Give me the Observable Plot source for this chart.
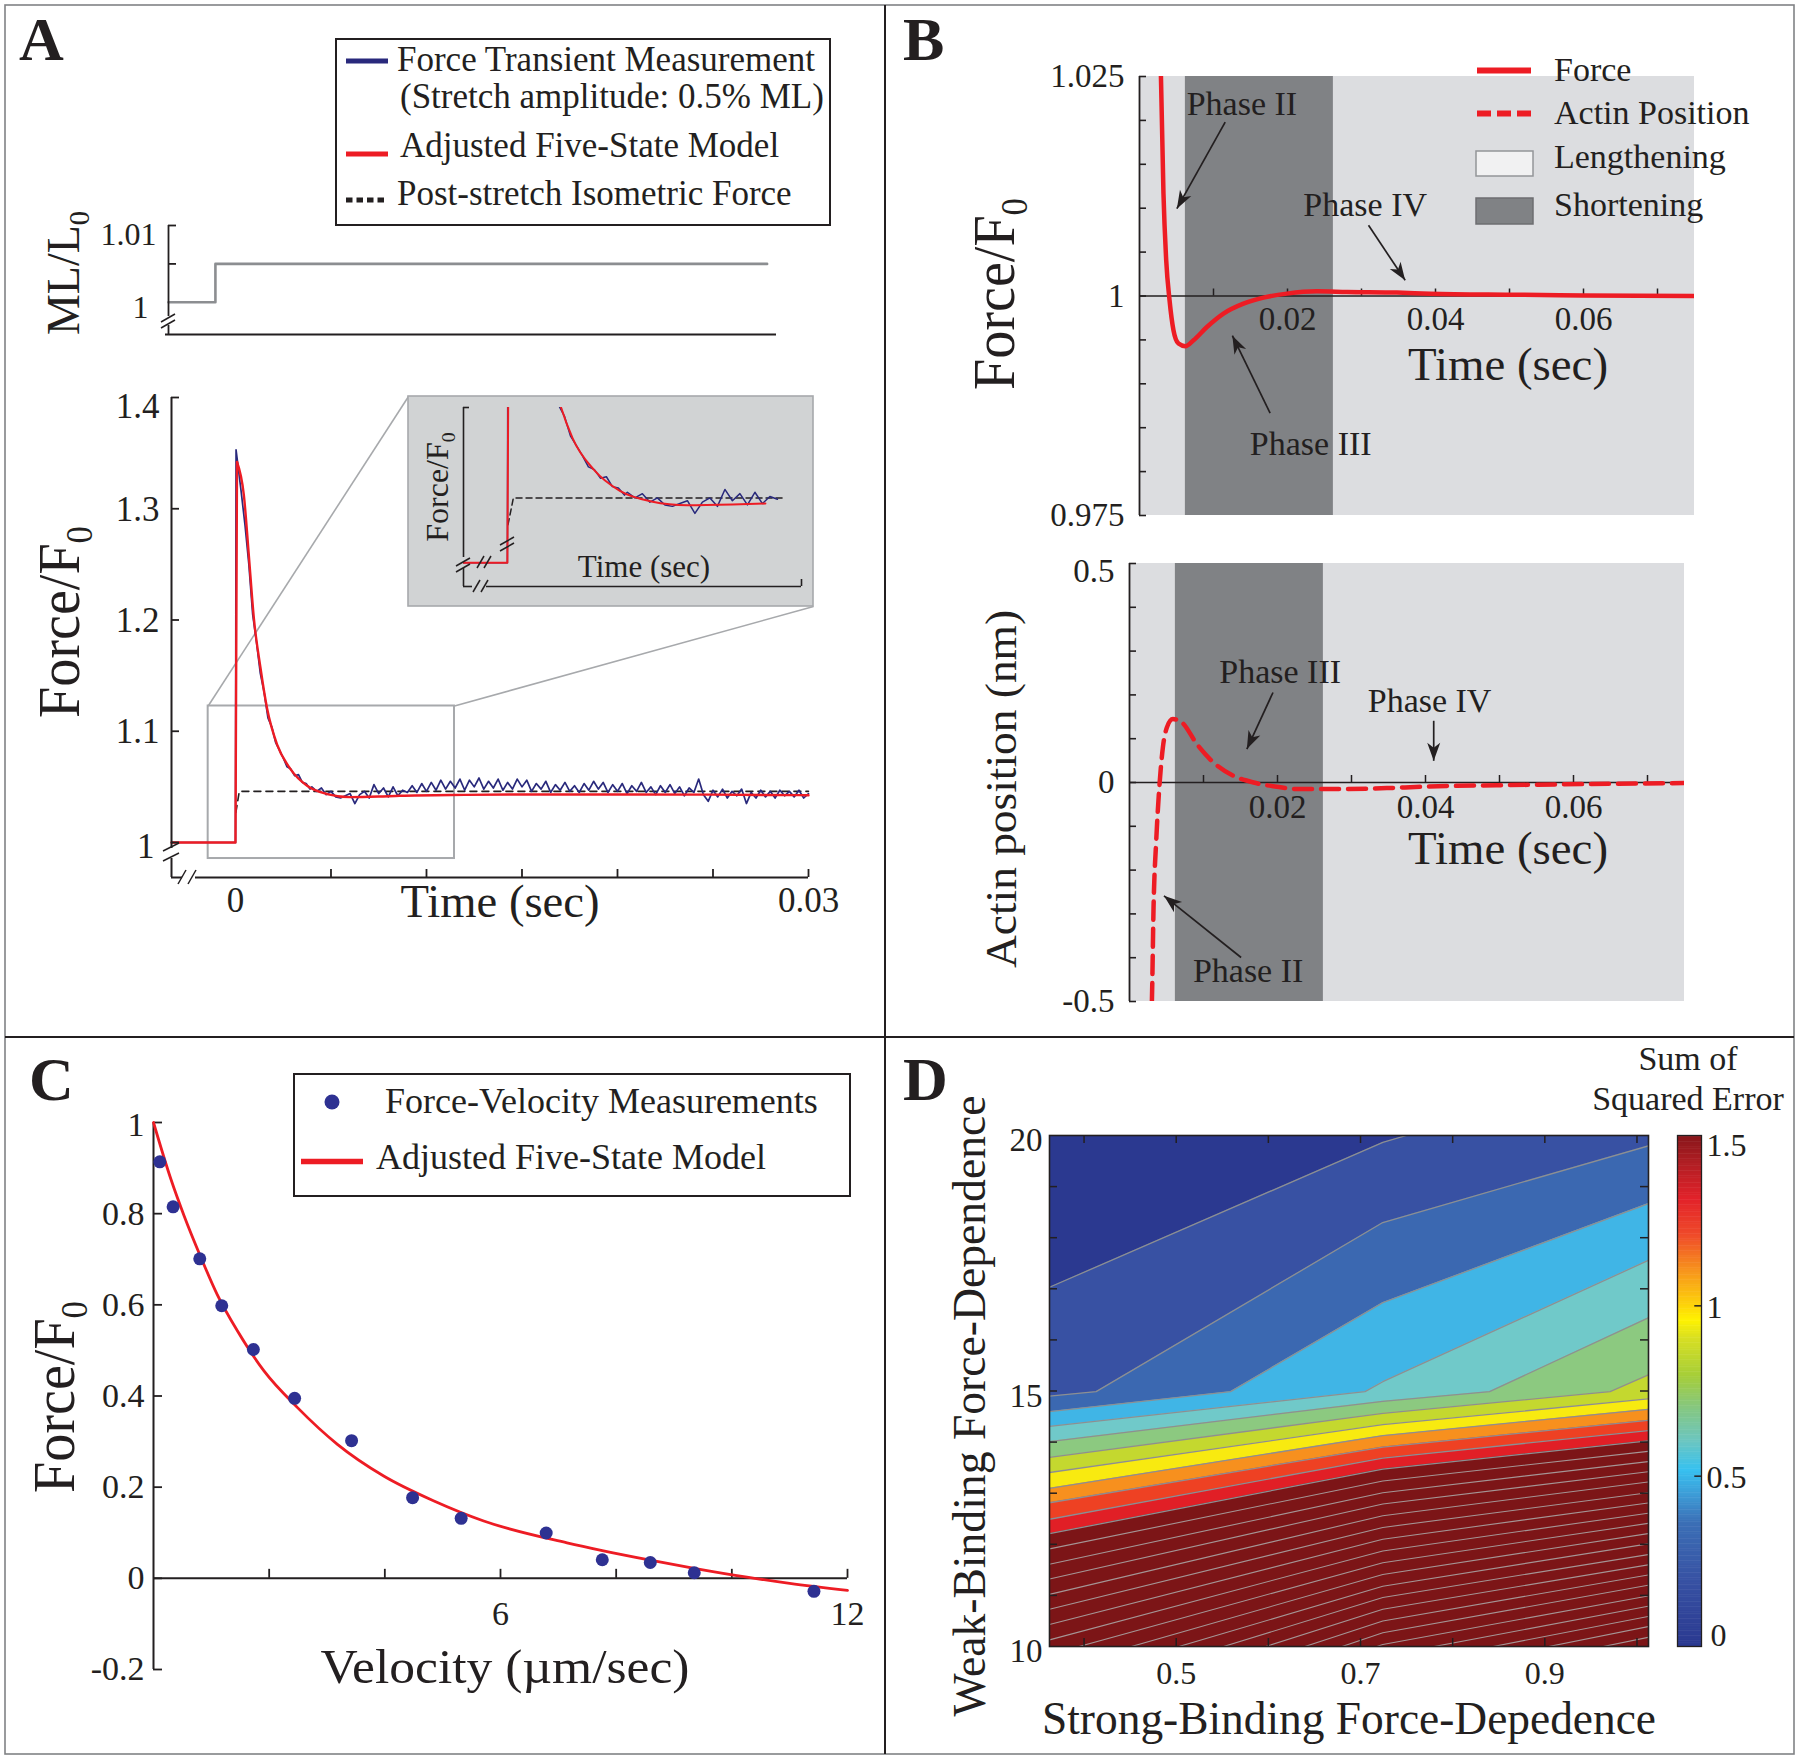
<!DOCTYPE html>
<html><head><meta charset="utf-8">
<script src="https://cdn.jsdelivr.net/npm/d3@7"></script>
<script src="https://cdn.jsdelivr.net/npm/@observablehq/plot@0.6"></script>
<style>
body{margin:0;background:#fff;}
#fig{position:relative;width:1800px;height:1759px;overflow:hidden;background:#fff;}
</style></head><body><div id="fig"></div>
<script>
// ================= DATA =================
// Panel A (top): muscle length step (ML/L0)
const mlTime = [-0.0025, 0, 0.0294];
const mlLength = [1, 1.005, 1.005];
const mlTickValues = [1.005, 1.01];
const mlLabelValues = [1, 1.01];
const mlLabels = ["1", "1.01"];

// Panel A: force transient, model (red): stretch step then decay
const modelStepTime = [-0.00335, 0, 0.00008];
const modelStepForce = [1, 1, 1.342];
const modelTime = [0.00008, 0.00044, 0.0007, 0.00096, 0.0013, 0.00166, 0.00218, 0.00288, 0.00375, 0.0048, 0.006, 0.0075, 0.0086, 0.012, 0.016, 0.02, 0.025, 0.03];
const modelForce = [1.342, 1.312, 1.258, 1.202, 1.158, 1.120, 1.088, 1.066, 1.051, 1.0435, 1.0408, 1.0413, 1.042, 1.0428, 1.0432, 1.0432, 1.043, 1.0425];
// measurement (blue): early part
const measEarlyTime = [-0.00335, 0, 0.00003, 0.0003, 0.0005, 0.0007, 0.0009, 0.0011, 0.0013, 0.0015, 0.0017, 0.0019, 0.0021, 0.0023, 0.0025, 0.0027, 0.0029, 0.0031, 0.0033, 0.0035, 0.0037, 0.0039];
const measEarlyForce = [1, 1, 1.353, 1.315, 1.285, 1.25, 1.205, 1.18, 1.152, 1.135, 1.112, 1.104, 1.09, 1.083, 1.076, 1.068, 1.066, 1.060, 1.061, 1.054, 1.053, 1.048];
// measurement (blue): sampled every 0.25 ms from 4 ms to 30 ms
const measTailStart = 0.004, measTailStep = 0.00025;
const measTailForce = [
1.050,1.046,1.049,1.043,1.046,1.041,1.040,1.042,1.044,1.035,
1.043,1.046,1.040,1.052,1.044,1.049,1.041,1.050,1.042,1.047,
1.045,1.051,1.045,1.053,1.046,1.054,1.047,1.056,1.048,1.055,
1.049,1.057,1.047,1.056,1.050,1.058,1.048,1.055,1.049,1.057,
1.047,1.054,1.048,1.057,1.050,1.056,1.046,1.053,1.048,1.055,
1.045,1.052,1.047,1.054,1.046,1.051,1.045,1.053,1.047,1.055,
1.048,1.054,1.045,1.052,1.046,1.053,1.044,1.051,1.046,1.054,
1.045,1.050,1.043,1.051,1.045,1.052,1.044,1.050,1.042,1.049,
1.045,1.057,1.043,1.037,1.047,1.041,1.048,1.040,1.046,1.042,
1.048,1.035,1.045,1.040,1.047,1.041,1.046,1.040,1.047,1.042,
1.046,1.041,1.047,1.040,1.044];
// post-stretch isometric force (dashed)
const isoTime = [0.00002, 0.0002, 0.03];
const isoForce = [1.027, 1.046, 1.046];
// zoomed region shown in inset
const zoomTime = [-0.00143, 0.011466];
const zoomForce = [0.9856, 1.1227];
const forceTickValues = [1, 1.1, 1.2, 1.3, 1.4];
const forceTickLabels = ["1", "1.1", "1.2", "1.3", "1.4"];
const timeTicksA = [0.005, 0.01, 0.015, 0.02, 0.025, 0.03];
const timeLabelValuesA = [0, 0.03];
const timeLabelsA = ["0", "0.03"];

// Panel B: model force and actin position
const forceBTime = [0.0025, 0.00289, 0.00324, 0.00361, 0.00406, 0.00459, 0.00527, 0.00618, 0.0073, 0.00911, 0.01135, 0.01405, 0.01676, 0.01992, 0.02397, 0.02803, 0.03478, 0.03928, 0.05, 0.06, 0.075];
const forceBValue = [1.045, 1.0253, 1.01165, 1.00406, 0.99951, 0.9961, 0.99458, 0.99428, 0.99496, 0.99647, 0.998, 0.99913, 0.99982, 1.00027, 1.00053, 1.00046, 1.00039, 1.00027, 1.00015, 1.00007, 1.0];
const actinTime = [0.0029, 0.00303, 0.00325, 0.00361, 0.00406, 0.00451, 0.00505, 0.00586, 0.00708, 0.00911, 0.01135, 0.01405, 0.01676, 0.01992, 0.02307, 0.02668, 0.03478, 0.03928, 0.0539, 0.075];
const actinValue = [-0.56, -0.498, -0.285, -0.133, -0.004, 0.080, 0.1256, 0.1447, 0.137, 0.0877, 0.0457, 0.0153, 0.0, -0.0098, -0.0151, -0.0151, -0.0128, -0.0098, -0.0053, -0.0014];
const shorteningPhase = [0.0062, 0.0262];
const timeTicksB = [0.01, 0.02, 0.03, 0.04, 0.05, 0.06, 0.07];
const timeLabelValuesB = [0.02, 0.04, 0.06];
const timeLabelsB = ["0.02", "0.04", "0.06"];
const forceBTicks = [0.975, 0.98, 0.985, 0.99, 0.995, 1, 1.005, 1.01, 1.015, 1.02, 1.025];
const forceBLabelValues = [0.975, 1, 1.025];
const forceBLabels = ["0.975", "1", "1.025"];
const actinTicks = [-0.5, -0.4, -0.3, -0.2, -0.1, 0, 0.1, 0.2, 0.3, 0.4, 0.5];
const actinLabelValues = [-0.5, 0, 0.5];
const actinLabels = ["-0.5", "0", "0.5"];
const phaseTopText = ["Phase II", "Phase IV", "Phase III"];
const phaseTopX = [0.01384, 0.0305, 0.02314];
const phaseTopY = [1.0219, 1.01032, 0.98315];
const arrowTopX1 = [0.01158, 0.03095, 0.01765], arrowTopY1 = [1.0198, 1.00805, 0.98667];
const arrowTopX2 = [0.00505, 0.0359, 0.01255], arrowTopY2 = [1.00995, 1.00179, 0.99548];
const phaseBotText = ["Phase III", "Phase IV", "Phase II"];
const phaseBotX = [0.02036, 0.04055, 0.01603];
const phaseBotY = [0.2518, 0.1865, -0.4299];
const arrowBotX1 = [0.01939, 0.04111, 0.01508], arrowBotY1 = [0.2055, 0.1409, -0.3995];
const arrowBotX2 = [0.01586, 0.04111, 0.00466], arrowBotY2 = [0.0763, 0.0495, -0.2587];

// Panel C: force-velocity
const fvVelocity = [0.109, 0.339, 0.80, 1.18, 1.727, 2.44, 3.425, 4.48, 5.32, 6.79, 7.76, 8.59, 9.35, 11.42];
const fvForce = [0.9137, 0.815, 0.701, 0.598, 0.502, 0.395, 0.302, 0.177, 0.1317, 0.0994, 0.0408, 0.0347, 0.0123, -0.0285];
const fvModelVelocity = [0, 0.3, 0.53, 0.82, 1.1, 1.45, 1.91, 2.49, 3.18, 3.98, 4.85, 5.71, 7.15, 7.76, 8.59, 9.35, 10.29, 11, 12];
const fvModelForce = [1.0, 0.876, 0.795, 0.704, 0.623, 0.543, 0.455, 0.3745, 0.294, 0.2245, 0.1697, 0.1258, 0.078, 0.061, 0.040, 0.022, 0.002, -0.011, -0.0265];
const fvYTicks = [-0.2, 0, 0.2, 0.4, 0.6, 0.8, 1];
const fvYLabels = ["-0.2", "0", "0.2", "0.4", "0.6", "0.8", "1"];
const fvXTicks = [2, 4, 6, 8, 10, 12];
const fvXLabelValues = [6, 12];
const fvXLabels = ["6", "12"];

// Panel D: contour boundaries (strong-binding x, weak-binding y), top to bottom
const contourX = [
  [0.3625, 0.7242, 0.7499, 1.0125],
  [0.3625, 0.4131, 0.7242, 1.0125],
  [0.3625, 0.5590, 0.7242, 1.0125],
  [0.3625, 0.7049, 0.7242, 1.0125],
  [0.3625, 0.7242, 0.8400, 1.0125],
  [0.3625, 0.7242, 0.9709, 1.0125],
  [0.3625, 0.7242, 1.0125],
  [0.3625, 0.7242, 1.0125],
  [0.3625, 0.7242, 1.0125],
  [0.3625, 0.7242, 1.0125],
  [0.3625, 0.7242, 1.0125]];
const contourY = [
  [17.03, 19.865, 20.0, 21.37],
  [14.899, 14.987, 18.297, 19.798],
  [14.596, 14.987, 16.729, 18.668],
  [14.307, 14.987, 15.182, 17.557],
  [14.011, 14.798, 14.987, 16.433],
  [13.701, 14.563, 14.987, 15.316],
  [13.405, 14.341, 14.845],
  [13.095, 14.125, 14.643],
  [12.813, 13.903, 14.428],
  [12.490, 13.688, 14.226],
  [12.207, 13.472, 14.024]];
// saturated contour lines inside the dark red region (left edge, kink, right edge)
const satX = [0.3625, 0.7242, 1.0125];
const satLeft  = [11.91, 11.61, 11.32, 11.02, 10.73, 10.43, 10.13, 9.84, 9.54, 9.25, 8.95, 8.65, 8.36, 8.06, 7.77, 7.47, 7.17, 6.88, 6.58, 6.29];
const satKink  = [13.24, 13.01, 12.79, 12.56, 12.33, 12.10, 11.87, 11.64, 11.41, 11.18, 10.96, 10.73, 10.50, 10.27, 10.04, 9.81, 9.58, 9.35, 9.12, 8.89];
const satRight = [13.82, 13.62, 13.42, 13.22, 13.01, 12.81, 12.61, 12.41, 12.21, 12.01, 11.80, 11.60, 11.40, 11.20, 10.99, 10.79, 10.59, 10.39, 10.18, 9.98];
const dXTicks = [0.4, 0.5, 0.6, 0.7, 0.8, 0.9, 1.0];
const dXLabelValues = [0.5, 0.7, 0.9];
const dXLabels = ["0.5", "0.7", "0.9"];
const dYTicks = [11, 12, 13, 14, 15, 16, 17, 18, 19];
const dYLabelValues = [10, 15, 20];
const dYLabels = ["10", "15", "20"];
const cbLabelValues = [0, 0.5, 1, 1.5];
const cbLabels = ["0", "0.5", "1", "1.5"];

// ================= STYLES =================
const INK = "#231f20", RED = "#ed1c24", NAVY = "#29297c", DOT = "#2e3192";
const SERIF = "'Liberation Serif', 'Times New Roman', serif";
const bandColors = ["#2b3990", "#3851a3", "#3b68b1", "#40b5e6", "#70c9c9", "#8cc980", "#c4d82f", "#f8ea10", "#f7901e", "#ee4123", "#e11f26", "#7c1517"];
const cbStops = [0, 0.2, 0.36, 0.44, 0.515, 0.6, 0.7, 0.79, 0.9, 0.955, 1.0, 1.1, 1.205, 1.31, 1.41, 1.5];
const cbColors = ["#2b3990", "#3853a4", "#3b6fb6", "#3d9bd6", "#37c1f0", "#6cc6c0", "#86c77e", "#a6ce39", "#d7df23", "#fff200", "#fdd20a", "#f7941d", "#ef4a2a", "#e2222a", "#b31e24", "#86161a"];

// ================= LAYOUT =================
const fig = document.getElementById("fig");
const frML = {x0: 168, x1: 776, y0: 225, y1: 334}, xdML = [-0.0025, 0.0299], ydML = [0.99581, 1.01];
const frF = {x0: 171, x1: 808, y0: 397, y1: 877}, xdF = [-0.00335, 0.03], ydF = [0.96854, 1.4];
const inBox = {x0: 408, x1: 813, y0: 396, y1: 606};
const frIn = {x0: 463, x1: 801, y0: 407, y1: 586}, xdIn = [-0.001463, 0.009803], ydIn = [0.98321, 1.11007];
const frB1 = {x0: 1139, x1: 1694, y0: 76, y1: 515}, xdB = [0, 0.075], ydB1 = [0.975, 1.025];
const frB2 = {x0: 1129, x1: 1684, y0: 563, y1: 1001}, ydB2 = [-0.5, 0.5];
const frC = {x0: 153, x1: 847, y0: 1122, y1: 1669}, xdC = [0, 12], ydC = [-0.2, 1];
const frD = {x0: 1049, x1: 1648, y0: 1135, y1: 1646}, xdD = [0.3625, 1.0125], ydD = [10, 20];
const frCB = {x0: 1677, x1: 1701, y0: 1135, y1: 1646}, ydCB = [0, 1.5];

function lin(fr, xd, yd) {
  const sx = (fr.x1 - fr.x0) / (xd[1] - xd[0]), sy = (fr.y1 - fr.y0) / (yd[1] - yd[0]);
  return {sx, sy, x: v => fr.x0 + (v - xd[0]) * sx, y: v => fr.y1 - (v - yd[0]) * sy,
    xi: p => xd[0] + (p - fr.x0) / sx, yi: p => yd[0] + (fr.y1 - p) / sy};
}
function mk(fr, xd, yd, marks, o = {}) {
  const m = o.m || {l: 140, r: 140, t: 140, b: 140};
  const w = fr.x1 - fr.x0, h = fr.y1 - fr.y0;
  const opts = {
    width: w + m.l + m.r, height: h + m.t + m.b,
    marginLeft: m.l, marginRight: m.r, marginTop: m.t, marginBottom: m.b,
    x: {domain: xd, axis: null}, y: {domain: yd, axis: null},
    marks
  };
  if (o.color) opts.color = o.color;
  const svg = Plot.plot(opts);
  Object.assign(svg.style, {position: "absolute", left: (fr.x0 - m.l) + "px", top: (fr.y0 - m.t) + "px",
    background: o.bg || "transparent", maxWidth: "none", overflow: "visible",
    width: (w + m.l + m.r) + "px", height: (h + m.t + m.b) + "px"});
  fig.appendChild(svg);
  return svg;
}
const pts = (xs, ys) => xs.map((x, i) => ({x, y: ys[i]}));
const labs = (vs, ss) => vs.map((v, i) => ({v, s: ss[i]}));
const arrowHead = {draw(ctx) { ctx.moveTo(0, 0); ctx.lineTo(-6.5, 18); ctx.lineTo(0, 13); ctx.lineTo(6.5, 18); ctx.closePath(); }};
function arrows(x1, y1, x2, y2, S) {
  const data = x1.map((v, i) => ({x1: v, y1: y1[i], x2: x2[i], y2: y2[i]}));
  return [
    Plot.link(data, {x1: "x1", y1: "y1", x2: "x2", y2: "y2", stroke: INK, strokeWidth: 1.7}),
    Plot.dot(data, {x: "x2", y: "y2", symbol: arrowHead, r: 5, fill: INK, stroke: "none",
      rotate: d => Math.atan2((d.x2 - d.x1) * S.sx, (d.y2 - d.y1) * S.sy) * 180 / Math.PI})
  ];
}
const measTime = measEarlyTime.concat(measTailForce.map((_, i) => measTailStart + i * measTailStep));
const measForce = measEarlyForce.concat(measTailForce);

// ---------- Panel A: ML/L0 ----------
{
  const S = lin(frML, xdML, ydML);
  mk(frML, xdML, ydML, [
    Plot.line(pts(mlTime, mlLength), {x: "x", y: "y", curve: "step-after", stroke: "#8c8e91", strokeWidth: 2.6}),
    Plot.ruleX([xdML[0]], {y1: 1.01, y2: S.yi(316), stroke: INK, strokeWidth: 1.8}),
    Plot.ruleX([xdML[0]], {y1: S.yi(325), y2: ydML[0], stroke: INK, strokeWidth: 1.8}),
    Plot.ruleY([ydML[0]], {x1: S.xi(165), x2: xdML[1], stroke: INK, strokeWidth: 2}),
    Plot.ruleY(mlTickValues, {x1: xdML[0], x2: xdML[0] + 8 / S.sx, stroke: INK, strokeWidth: 1.8}),
    Plot.text(labs(mlLabelValues, mlLabels).slice(0, 1), {x: xdML[0], y: "v", text: "s", textAnchor: "end", dx: -20, dy: 5, fontSize: 32, fontFamily: SERIF, fill: INK}),
    Plot.text(labs(mlLabelValues, mlLabels).slice(1), {x: xdML[0], y: "v", text: "s", textAnchor: "end", dx: -12, dy: 9, fontSize: 32, fontFamily: SERIF, fill: INK})
  ]);
}

// ---------- Panel A: force transient ----------
const SF = lin(frF, xdF, ydF);
{
  const S = SF;
  const links = [
    {x1: zoomTime[0], y1: zoomForce[1], x2: S.xi(inBox.x0), y2: S.yi(inBox.y0)},
    {x1: zoomTime[1], y1: zoomForce[1], x2: S.xi(inBox.x1), y2: S.yi(inBox.y1)}];
  const yl = labs(forceTickValues, forceTickLabels);
  mk(frF, xdF, ydF, [
    Plot.link(links, {x1: "x1", y1: "y1", x2: "x2", y2: "y2", stroke: "#a7a9ac", strokeWidth: 1.6}),
    Plot.rect([0], {x1: zoomTime[0], x2: zoomTime[1], y1: zoomForce[0], y2: zoomForce[1], fill: "none", stroke: "#a7a9ac", strokeWidth: 2}),
    Plot.line(pts(isoTime, isoForce), {x: "x", y: "y", stroke: INK, strokeWidth: 1.6, strokeDasharray: "7,5"}),
    Plot.line(pts(measTime, measForce), {x: "x", y: "y", stroke: NAVY, strokeWidth: 1.7}),
    Plot.line(pts(modelStepTime, modelStepForce), {x: "x", y: "y", stroke: RED, strokeWidth: 2.4}),
    Plot.line(pts(modelTime, modelForce), {x: "x", y: "y", stroke: RED, strokeWidth: 2.4, curve: "monotone-x"}),
    Plot.ruleX([xdF[0]], {y1: 1.4, y2: S.yi(848), stroke: INK, strokeWidth: 2}),
    Plot.ruleX([xdF[0]], {y1: S.yi(858), y2: ydF[0], stroke: INK, strokeWidth: 2}),
    Plot.ruleY([ydF[0]], {x1: xdF[0], x2: S.xi(182), stroke: INK, strokeWidth: 2}),
    Plot.ruleY([ydF[0]], {x1: S.xi(195), x2: xdF[1], stroke: INK, strokeWidth: 2}),
    Plot.ruleY(forceTickValues, {x1: xdF[0], x2: xdF[0] + 8 / S.sx, stroke: INK, strokeWidth: 1.8}),
    Plot.ruleX(timeTicksA, {y1: ydF[0], y2: ydF[0] + 8 / S.sy, stroke: INK, strokeWidth: 1.8}),
    Plot.text(yl.slice(0, 1), {x: xdF[0], y: "v", text: "s", textAnchor: "end", dx: -17, dy: 4, fontSize: 35, fontFamily: SERIF, fill: INK}),
    Plot.text(yl.slice(1, 4), {x: xdF[0], y: "v", text: "s", textAnchor: "end", dx: -12, dy: 1, fontSize: 35, fontFamily: SERIF, fill: INK}),
    Plot.text(yl.slice(4), {x: xdF[0], y: "v", text: "s", textAnchor: "end", dx: -12, dy: 9, fontSize: 35, fontFamily: SERIF, fill: INK}),
    Plot.text(labs(timeLabelValuesA, timeLabelsA), {x: "v", y: ydF[0], text: "s", dy: 23, fontSize: 35, fontFamily: SERIF, fill: INK})
  ]);
}

// ---------- Panel A: inset ----------
{
  const S = lin(frIn, xdIn, ydIn);
  const keep = d => d.x <= 0.0092;
  mk(frIn, xdIn, ydIn, [
    Plot.line(pts(isoTime, isoForce).map(d => ({x: Math.min(d.x, 0.0092), y: d.y})), {x: "x", y: "y", stroke: INK, strokeWidth: 1.5, strokeDasharray: "6,4", clip: true}),
    Plot.line(pts(measTime, measForce).filter(keep), {x: "x", y: "y", stroke: NAVY, strokeWidth: 1.5, clip: true}),
    Plot.line(pts(modelStepTime, modelStepForce), {x: "x", y: "y", stroke: RED, strokeWidth: 2, clip: true}),
    Plot.line(pts(modelTime, modelForce).filter(keep), {x: "x", y: "y", stroke: RED, strokeWidth: 2, curve: "monotone-x", clip: true}),
    Plot.ruleX([xdIn[0]], {y1: ydIn[1], y2: S.yi(557), stroke: INK, strokeWidth: 1.6}),
    Plot.ruleX([xdIn[0]], {y1: S.yi(568), y2: ydIn[0], stroke: INK, strokeWidth: 1.6}),
    Plot.ruleY([ydIn[0]], {x1: xdIn[0], x2: S.xi(472), stroke: INK, strokeWidth: 1.6}),
    Plot.ruleY([ydIn[0]], {x1: S.xi(486), x2: xdIn[1], stroke: INK, strokeWidth: 1.6}),
    Plot.ruleY([ydIn[1]], {x1: xdIn[0], x2: xdIn[0] + 6 / S.sx, stroke: INK, strokeWidth: 1.6}),
    Plot.ruleX([xdIn[1]], {y1: ydIn[0], y2: ydIn[0] + 7 / S.sy, stroke: INK, strokeWidth: 1.6})
  ], {m: {l: frIn.x0 - inBox.x0, r: inBox.x1 - frIn.x1, t: frIn.y0 - inBox.y0, b: inBox.y1 - frIn.y1}, bg: "#d1d3d4"});
}

// ---------- Panel B: force ----------
{
  const S = lin(frB1, xdB, ydB1);
  mk(frB1, xdB, ydB1, [
    Plot.rect([0], {x1: xdB[0], x2: xdB[1], y1: ydB1[0], y2: ydB1[1], fill: "#dcdde0"}),
    Plot.rect([0], {x1: shorteningPhase[0], x2: shorteningPhase[1], y1: ydB1[0], y2: ydB1[1], fill: "#808285"}),
    Plot.ruleY([1], {x1: xdB[0], x2: xdB[1], stroke: INK, strokeWidth: 1.5}),
    Plot.ruleX(timeTicksB, {y1: 1, y2: 1 + 7 / S.sy, stroke: INK, strokeWidth: 1.5}),
    Plot.ruleX([0], {y1: ydB1[0], y2: ydB1[1], stroke: INK, strokeWidth: 1.8}),
    Plot.ruleY(forceBTicks, {x1: 0, x2: 7 / S.sx, stroke: INK, strokeWidth: 1.6}),
    Plot.text(labs(forceBLabelValues, forceBLabels), {x: 0, y: "v", text: "s", textAnchor: "end", dx: -15, fontSize: 33, fontFamily: SERIF, fill: INK}),
    Plot.text(labs(timeLabelValuesB, timeLabelsB), {x: "v", y: 1, text: "s", dy: 23, fontSize: 33, fontFamily: SERIF, fill: INK}),
    Plot.line(pts(forceBTime, forceBValue), {x: "x", y: "y", stroke: RED, strokeWidth: 4.5, curve: "monotone-x", clip: true}),
    ...arrows(arrowTopX1, arrowTopY1, arrowTopX2, arrowTopY2, S),
    Plot.text(phaseTopText.map((s, i) => ({s, x: phaseTopX[i], y: phaseTopY[i]})), {x: "x", y: "y", text: "s", fontSize: 34, fontFamily: SERIF, fill: INK})
  ]);
}

// ---------- Panel B: actin position ----------
{
  const S = lin(frB2, xdB, ydB2);
  const al = labs(actinLabelValues, actinLabels);
  mk(frB2, xdB, ydB2, [
    Plot.rect([0], {x1: xdB[0], x2: xdB[1], y1: ydB2[0], y2: ydB2[1], fill: "#dcdde0"}),
    Plot.rect([0], {x1: shorteningPhase[0], x2: shorteningPhase[1], y1: ydB2[0], y2: ydB2[1], fill: "#808285"}),
    Plot.ruleY([0], {x1: xdB[0], x2: xdB[1], stroke: INK, strokeWidth: 1.5}),
    Plot.ruleX(timeTicksB, {y1: 0, y2: 7 / S.sy, stroke: INK, strokeWidth: 1.5}),
    Plot.ruleX([0], {y1: ydB2[0], y2: ydB2[1], stroke: INK, strokeWidth: 1.8}),
    Plot.ruleY(actinTicks, {x1: 0, x2: 7 / S.sx, stroke: INK, strokeWidth: 1.6}),
    Plot.text(al.slice(0, 2), {x: 0, y: "v", text: "s", textAnchor: "end", dx: -15, fontSize: 33, fontFamily: SERIF, fill: INK}),
    Plot.text(al.slice(2), {x: 0, y: "v", text: "s", textAnchor: "end", dx: -15, dy: 8, fontSize: 33, fontFamily: SERIF, fill: INK}),
    Plot.text(labs(timeLabelValuesB, timeLabelsB), {x: "v", y: 0, text: "s", dy: 25, fontSize: 33, fontFamily: SERIF, fill: INK}),
    Plot.line(pts(actinTime, actinValue), {x: "x", y: "y", stroke: RED, strokeWidth: 4.5, strokeDasharray: "18,9", curve: "monotone-x", clip: true}),
    ...arrows(arrowBotX1, arrowBotY1, arrowBotX2, arrowBotY2, S),
    Plot.text(phaseBotText.map((s, i) => ({s, x: phaseBotX[i], y: phaseBotY[i]})), {x: "x", y: "y", text: "s", fontSize: 34, fontFamily: SERIF, fill: INK})
  ]);
}

// ---------- Panel C ----------
{
  const S = lin(frC, xdC, ydC);
  const yl = labs(fvYTicks, fvYLabels);
  mk(frC, xdC, ydC, [
    Plot.ruleX([0], {y1: ydC[0], y2: ydC[1], stroke: INK, strokeWidth: 2}),
    Plot.ruleY([0], {x1: 0, x2: 12, stroke: INK, strokeWidth: 2}),
    Plot.ruleY(fvYTicks, {x1: 0, x2: 9 / S.sx, stroke: INK, strokeWidth: 1.8}),
    Plot.ruleX(fvXTicks, {y1: 0, y2: 9 / S.sy, stroke: INK, strokeWidth: 1.8}),
    Plot.text(yl.slice(0, 6), {x: 0, y: "v", text: "s", textAnchor: "end", dx: -9, fontSize: 34, fontFamily: SERIF, fill: INK}),
    Plot.text(yl.slice(6), {x: 0, y: "v", text: "s", textAnchor: "end", dx: -9, dy: 3, fontSize: 34, fontFamily: SERIF, fill: INK}),
    Plot.text(labs(fvXLabelValues, fvXLabels), {x: "v", y: 0, text: "s", dy: 36, fontSize: 34, fontFamily: SERIF, fill: INK}),
    Plot.line(pts(fvModelVelocity, fvModelForce), {x: "x", y: "y", stroke: RED, strokeWidth: 2.8, curve: "monotone-x"}),
    Plot.dot(pts(fvVelocity, fvForce), {x: "x", y: "y", r: 6.5, fill: DOT, stroke: "none"})
  ]);
}

// ---------- Panel D: contour ----------
{
  const S = lin(frD, xdD, ydD);
  const bands = contourX.map((xs, k) => Plot.areaY(pts(xs, contourY[k]), {x: "x", y1: 5, y2: "y", fill: bandColors[k + 1], clip: true}));
  const bLines = contourX.map((xs, k) => Plot.line(pts(xs, contourY[k]), {x: "x", y: "y", stroke: "#8d8f92", strokeWidth: 1.3, clip: true}));
  const sLines = satLeft.map((l, k) => Plot.line(pts(satX, [l, satKink[k], satRight[k]]), {x: "x", y: "y", stroke: "#a59595", strokeWidth: 1.1, clip: true}));
  mk(frD, xdD, ydD, [
    Plot.rect([0], {x1: xdD[0], x2: xdD[1], y1: ydD[0], y2: ydD[1], fill: bandColors[0]}),
    ...bands, ...bLines, ...sLines,
    Plot.frame({stroke: INK, strokeWidth: 1.6}),
    Plot.ruleY(dYTicks, {x1: xdD[0], x2: xdD[0] + 8 / S.sx, stroke: INK, strokeWidth: 1.5}),
    Plot.ruleY(dYTicks, {x1: xdD[1] - 8 / S.sx, x2: xdD[1], stroke: INK, strokeWidth: 1.5}),
    Plot.ruleX(dXTicks, {y1: ydD[0], y2: ydD[0] + 8 / S.sy, stroke: INK, strokeWidth: 1.5}),
    Plot.ruleX(dXTicks, {y1: ydD[1] - 8 / S.sy, y2: ydD[1], stroke: INK, strokeWidth: 1.5}),
    Plot.text(labs(dYLabelValues, dYLabels), {x: xdD[0], y: "v", text: "s", textAnchor: "end", dx: -7, dy: 5, fontSize: 33, fontFamily: SERIF, fill: INK}),
    Plot.text(labs(dXLabelValues, dXLabels), {x: "v", y: ydD[0], text: "s", dy: 27, fontSize: 32, fontFamily: SERIF, fill: INK})
  ]);
}
// ---------- Panel D: colorbar ----------
{
  const step = 0.005;
  const slices = d3.range(0, 1.5, step);
  const cl = labs(cbLabelValues, cbLabels);
  mk(frCB, [0, 1], ydCB, [
    Plot.rect(slices, {x1: 0, x2: 1, y1: d => d, y2: d => Math.min(1.5, d + step * 1.3), fill: d => d}),
    Plot.frame({stroke: INK, strokeWidth: 1.3}),
    Plot.ruleY([0.5, 1], {x1: 0.72, x2: 1, stroke: INK, strokeWidth: 1.5}),
    Plot.text(cl.slice(0, 1), {x: 1, y: "v", text: "s", textAnchor: "start", dx: 9, dy: -11, fontSize: 32, fontFamily: SERIF, fill: INK}),
    Plot.text(cl.slice(1, 3), {x: 1, y: "v", text: "s", textAnchor: "start", dx: 5, dy: 2, fontSize: 32, fontFamily: SERIF, fill: INK}),
    Plot.text(cl.slice(3), {x: 1, y: "v", text: "s", textAnchor: "start", dx: 5, dy: 10, fontSize: 32, fontFamily: SERIF, fill: INK})
  ], {color: {type: "linear", domain: cbStops, range: cbColors}});
}

// ================= OVERLAY (frame, panel letters, legends, titles) =================
const ov = d3.select(fig).append("svg").attr("width", 1800).attr("height", 1759)
  .style("position", "absolute").style("left", "0px").style("top", "0px").style("overflow", "visible");
function T(x, y, str, size, o = {}) {
  const t = ov.append("text").attr("x", x).attr("y", y).attr("font-family", SERIF).attr("font-size", size)
    .attr("fill", INK).attr("text-anchor", o.anchor || "start");
  if (o.bold) t.attr("font-weight", "bold");
  if (o.rotate) t.attr("transform", `rotate(${o.rotate},${x},${y})`);
  t.append("tspan").text(str);
  if (o.sub) t.append("tspan").attr("font-size", size * 0.62).attr("dy", size * 0.22).text(o.sub);
  if (o.len) t.attr("textLength", o.len).attr("lengthAdjust", "spacingAndGlyphs");
  return t;
}
function L(x1, y1, x2, y2, stroke, w, dash) {
  const l = ov.append("line").attr("x1", x1).attr("y1", y1).attr("x2", x2).attr("y2", y2).attr("stroke", stroke).attr("stroke-width", w);
  if (dash) l.attr("stroke-dasharray", dash);
  return l;
}
function R(x, y, w, h, fill, stroke, sw) {
  return ov.append("rect").attr("x", x).attr("y", y).attr("width", w).attr("height", h).attr("fill", fill).attr("stroke", stroke).attr("stroke-width", sw);
}
// figure frame and dividers
R(5, 5, 1789, 1749, "none", "#808285", 1.6);
L(885, 5, 885, 1754, INK, 2);
L(5, 1037, 1794, 1037, INK, 2);
// inset box border
R(inBox.x0, inBox.y0, inBox.x1 - inBox.x0, inBox.y1 - inBox.y0, "none", "#a7a9ac", 1.6);
// axis break marks
[[161, 322, 175, 314], [161, 328, 175, 320],
 [163, 851, 179, 843], [163, 861, 179, 853],
 [178, 884, 186, 870], [188, 884, 196, 870],
 [456, 566, 470, 558], [456, 572, 470, 564],
 [473, 592, 480, 580], [481, 592, 488, 580],
 [477, 568, 484, 556], [484, 568, 491, 556],
 [500, 545, 514, 537], [500, 551, 514, 543]].forEach(d => L(d[0], d[1], d[2], d[3], INK, 1.5));

// panel letters
T(19, 60, "A", 62, {bold: true});
T(903, 60, "B", 62, {bold: true});
T(29, 1100, "C", 62, {bold: true});
T(903, 1100, "D", 62, {bold: true});

// Panel A legend
R(336, 39, 494, 186, "#fff", INK, 2);
L(346, 61, 388, 61, NAVY, 5);
T(397, 71, "Force Transient Measurement", 35);
T(400, 108, "(Stretch amplitude: 0.5% ML)", 35);
L(346, 154, 388, 154, RED, 5);
T(400, 157, "Adjusted Five-State Model", 35);
L(346, 200, 388, 200, INK, 5, "6.5,4");
T(397, 205, "Post-stretch Isometric Force", 35);
// Panel A titles
T(79, 273, "ML/L", 46, {rotate: -90, anchor: "middle", sub: "0"});
T(79, 622, "Force/F", 60, {rotate: -90, anchor: "middle", sub: "0", len: 192});
T(500, 917, "Time (sec)", 47, {anchor: "middle", len: 199});
T(448, 487, "Force/F", 32, {rotate: -90, anchor: "middle", sub: "0"});
T(644, 577, "Time (sec)", 31, {anchor: "middle"});

// Panel B legend
L(1477, 70.5, 1531, 70.5, RED, 6);
T(1554, 81, "Force", 34);
L(1477, 113.5, 1531, 113.5, RED, 6, "14,6");
T(1554, 124, "Actin Position", 34);
R(1476, 151, 57, 25, "#f1f1f2", "#939598", 1.5);
T(1554, 168, "Lengthening", 34);
R(1476, 198, 57, 26, "#808285", "#6d6e71", 1.5);
T(1554, 216, "Shortening", 34);
// Panel B titles
T(1014, 294, "Force/F", 60, {rotate: -90, anchor: "middle", sub: "0", len: 192});
T(1508, 380, "Time (sec)", 47, {anchor: "middle", len: 200});
T(1016, 789, "Actin position (nm)", 45, {rotate: -90, anchor: "middle", len: 358});
T(1508, 864, "Time (sec)", 47, {anchor: "middle", len: 200});

// Panel C legend
R(294, 1074, 556, 122, "#fff", INK, 2);
ov.append("circle").attr("cx", 332).attr("cy", 1102).attr("r", 7.5).attr("fill", DOT);
T(385, 1113, "Force-Velocity Measurements", 36);
L(301, 1161.5, 363, 1161.5, RED, 5.5);
T(376, 1169, "Adjusted Five-State Model", 36);
// Panel C titles
T(74, 1397, "Force/F", 60, {rotate: -90, anchor: "middle", sub: "0", len: 192});
T(505, 1683, "Velocity (\u00b5m/sec)", 48, {anchor: "middle", len: 369});

// Panel D titles
T(1688, 1070, "Sum of", 34, {anchor: "middle"});
T(1688, 1110, "Squared Error", 34, {anchor: "middle"});
T(1349, 1734, "Strong-Binding Force-Depedence", 46, {anchor: "middle", len: 614});
T(985, 1406, "Weak-Binding Force-Dependence", 46, {rotate: -90, anchor: "middle", len: 621});
</script></body></html>
